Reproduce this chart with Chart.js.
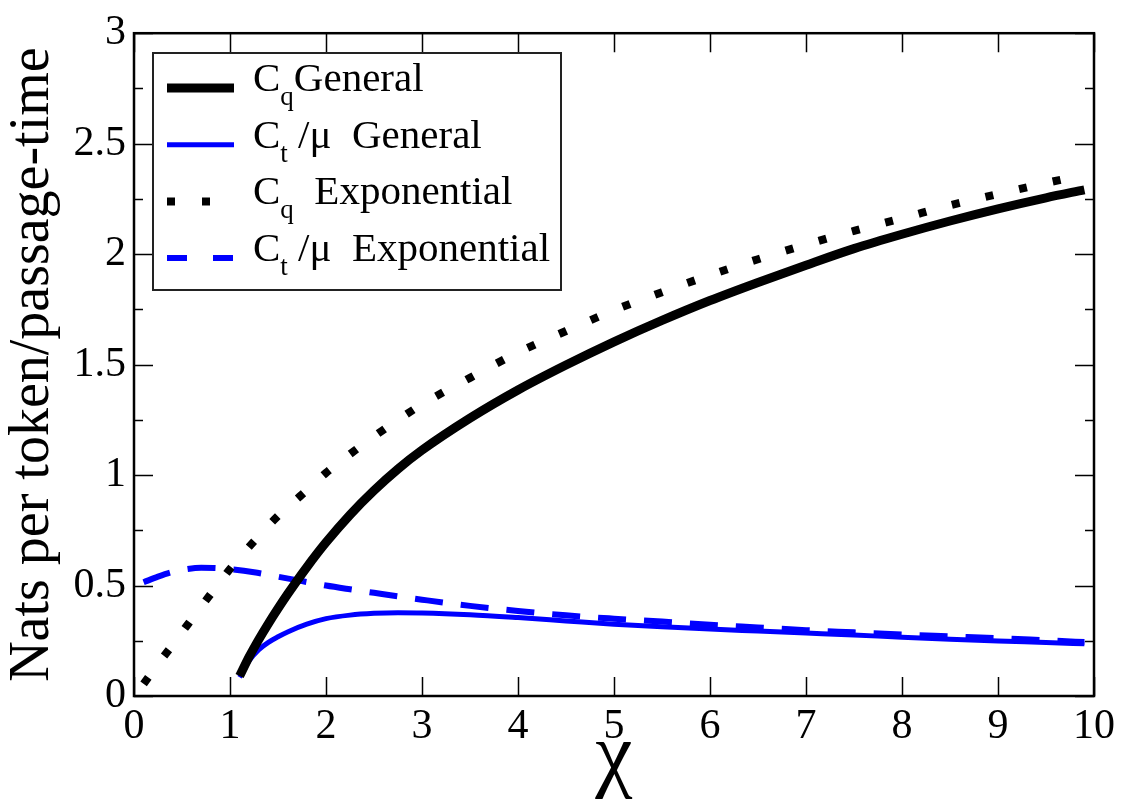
<!DOCTYPE html>
<html><head><meta charset="utf-8">
<script src="https://cdn.jsdelivr.net/npm/chart.js@4.4.1/dist/chart.umd.min.js"></script>
<style>html,body{margin:0;padding:0;background:#fff;}#wrap{width:1122px;height:809px;}</style>
</head><body><div id="wrap"><canvas id="c" width="1122" height="809"></canvas></div>
<script>
// ---- data ----
const xGeneral = [1.1,1.2,1.3,1.4,1.5,1.6,1.8,2.0,2.25,2.5,2.75,3.0,3.5,4.0,4.5,5.0,5.5,6.0,6.5,7.0,7.5,8.0,8.5,9.0,9.5,9.9];
const cqGeneral = [0.09,0.178,0.256,0.328,0.396,0.461,0.583,0.695,0.82,0.93,1.0275,1.1125,1.2575,1.385,1.498,1.603,1.70,1.79,1.872,1.95,2.025,2.09,2.15,2.205,2.255,2.291];
const ctGeneral = [0.085,0.16,0.21,0.243,0.268,0.29,0.325,0.35,0.366,0.374,0.377,0.376,0.368,0.355,0.34,0.325,0.313,0.303,0.294,0.285,0.276,0.266,0.257,0.249,0.242,0.236];
const xExponential = [0.1,0.25,0.4,0.55,0.7,0.85,1.0,1.25,1.5,1.75,2.0,2.25,2.5,2.75,3.0,3.5,4.0,4.5,5.0,5.5,6.0,6.5,7.0,7.5,8.0,8.5,9.0,9.5,9.9];
const cqExponential = [0.055,0.145,0.23,0.318,0.405,0.49,0.575,0.70,0.815,0.912,1.01,1.095,1.175,1.25,1.32,1.44,1.555,1.652,1.746,1.828,1.905,1.977,2.043,2.105,2.162,2.221,2.272,2.322,2.36];
const ctExponential = [0.515,0.54,0.561,0.574,0.58,0.579,0.574,0.56,0.54,0.52,0.50,0.483,0.467,0.451,0.436,0.408,0.385,0.365,0.35,0.337,0.322,0.31,0.298,0.288,0.278,0.27,0.262,0.252,0.244];
const xTickLabels = ['0','1','2','3','4','5','6','7','8','9','10'];
const yTickLabels = ['0','0.5','1','1.5','2','2.5','3'];
const legendMain = ['C','C','C','C'];
const legendSub = ['q','t','q','t'];
const legendRest = ['General',' /\u03BC  General','  Exponential',' /\u03BC  Exponential'];

const pts = (xs, ys) => xs.map((x, i) => ({x, y: ys[i]}));
const SERIF = "'Liberation Serif', 'Times New Roman', serif";

const frameTicks = {
  id: 'frameTicks',
  afterDatasetsDraw(chart) {
    const {ctx, chartArea: a, scales: {x, y}} = chart;
    ctx.save();
    ctx.strokeStyle = '#000';
    ctx.lineWidth = 1.5;
    ctx.beginPath();
    x.ticks.forEach(t => {
      const px = Math.round(x.getPixelForValue(t.value)) + 0.5;
      ctx.moveTo(px, a.bottom); ctx.lineTo(px, a.bottom - 19);
      ctx.moveTo(px, a.top); ctx.lineTo(px, a.top + 19);
    });
    for (let v = 0; v <= 3.0001; v += 0.25) {
      const py = Math.round(y.getPixelForValue(v)) + 0.5;
      const major = Math.abs(v * 2 - Math.round(v * 2)) < 1e-6;
      const len = major ? 19 : 9;
      ctx.moveTo(a.left, py); ctx.lineTo(a.left + len, py);
      ctx.moveTo(a.right, py); ctx.lineTo(a.right - len, py);
    }
    ctx.stroke();
    ctx.lineWidth = 2.5;
    ctx.strokeRect(a.left, a.top, a.right - a.left, a.bottom - a.top);
    ctx.restore();
  }
};

const customLegend = {
  id: 'customLegend',
  afterDraw(chart) {
    const {ctx} = chart;
    const bx = 153, by = 53, bw = 408, bh = 237;
    ctx.save();
    ctx.fillStyle = '#fff';
    ctx.fillRect(bx, by, bw, bh);
    ctx.strokeStyle = '#222';
    ctx.lineWidth = 2;
    ctx.strokeRect(bx, by, bw, bh);
    chart.data.datasets.forEach((ds, i) => {
      const ly = 88 + i * 56.7;
      ctx.beginPath();
      ctx.strokeStyle = ds.borderColor;
      ctx.lineWidth = ds.borderWidth;
      ctx.lineCap = 'butt';
      ctx.setLineDash(ds.legendDash || []);
      ctx.moveTo(167, ly); ctx.lineTo(234, ly);
      ctx.stroke();
      ctx.setLineDash([]);
      const base = ly + 3;
      ctx.fillStyle = '#000';
      ctx.textBaseline = 'alphabetic';
      ctx.textAlign = 'left';
      ctx.font = '41px ' + SERIF;
      let tx = 253;
      ctx.fillText(legendMain[i], tx, base);
      tx += ctx.measureText(legendMain[i]).width;
      ctx.font = '27px ' + SERIF;
      ctx.fillText(legendSub[i], tx, base + 14);
      tx += ctx.measureText(legendSub[i]).width;
      ctx.font = '41px ' + SERIF;
      ctx.fillText(legendRest[i], tx, base);
    });
    ctx.restore();
  }
};

new Chart(document.getElementById('c'), {
  type: 'line',
  data: {
    datasets: [
      {label: 'Cq General', data: pts(xGeneral, cqGeneral), borderColor: '#000', borderWidth: 9, legendDash: []},
      {label: 'Ct/\u03BC General', data: pts(xGeneral, ctGeneral), borderColor: '#0000ff', borderWidth: 5, legendDash: []},
      {label: 'Cq Exponential', data: pts(xExponential, cqExponential), borderColor: '#000', borderWidth: 8, borderDash: [8, 26.5], legendDash: [8, 27]},
      {label: 'Ct/\u03BC Exponential', data: pts(xExponential, ctExponential), borderColor: '#0000ff', borderWidth: 6, borderDash: [28, 18], legendDash: [20, 26]}
    ]
  },
  options: {
    responsive: false,
    animation: false,
    devicePixelRatio: 1,
    layout: {padding: {top: 24, right: 28, left: 0, bottom: 0}},
    elements: {point: {radius: 0}, line: {cubicInterpolationMode: 'monotone', borderCapStyle: 'butt', fill: false}},
    plugins: {legend: {display: false}, tooltip: {enabled: false}},
    scales: {
      x: {
        type: 'linear', min: 0, max: 10,
        ticks: {stepSize: 1, color: '#000', font: {family: SERIF, size: 42}, padding: 6, maxRotation: 0,
          callback: (v, i) => xTickLabels[i]},
        grid: {display: false, drawTicks: false},
        border: {display: false},
        title: {display: true, text: '\u03C7', color: '#000', font: {family: SERIF, size: 84, weight: 'normal'}, padding: {top: 0, bottom: 0}},
        afterFit: s => { s.height = 113; }
      },
      y: {
        type: 'linear', min: 0, max: 3,
        ticks: {stepSize: 0.5, color: '#000', font: {family: SERIF, size: 42}, padding: 8,
          callback: (v, i) => yTickLabels[i]},
        grid: {display: false, drawTicks: false},
        border: {display: false},
        title: {display: true, text: 'Nats per token/passage-time', color: '#000', font: {family: SERIF, size: 56}, padding: {top: 0, bottom: 0}},
        afterFit: s => { s.width = 134; }
      }
    }
  },
  plugins: [frameTicks, customLegend]
});
</script></body></html>
